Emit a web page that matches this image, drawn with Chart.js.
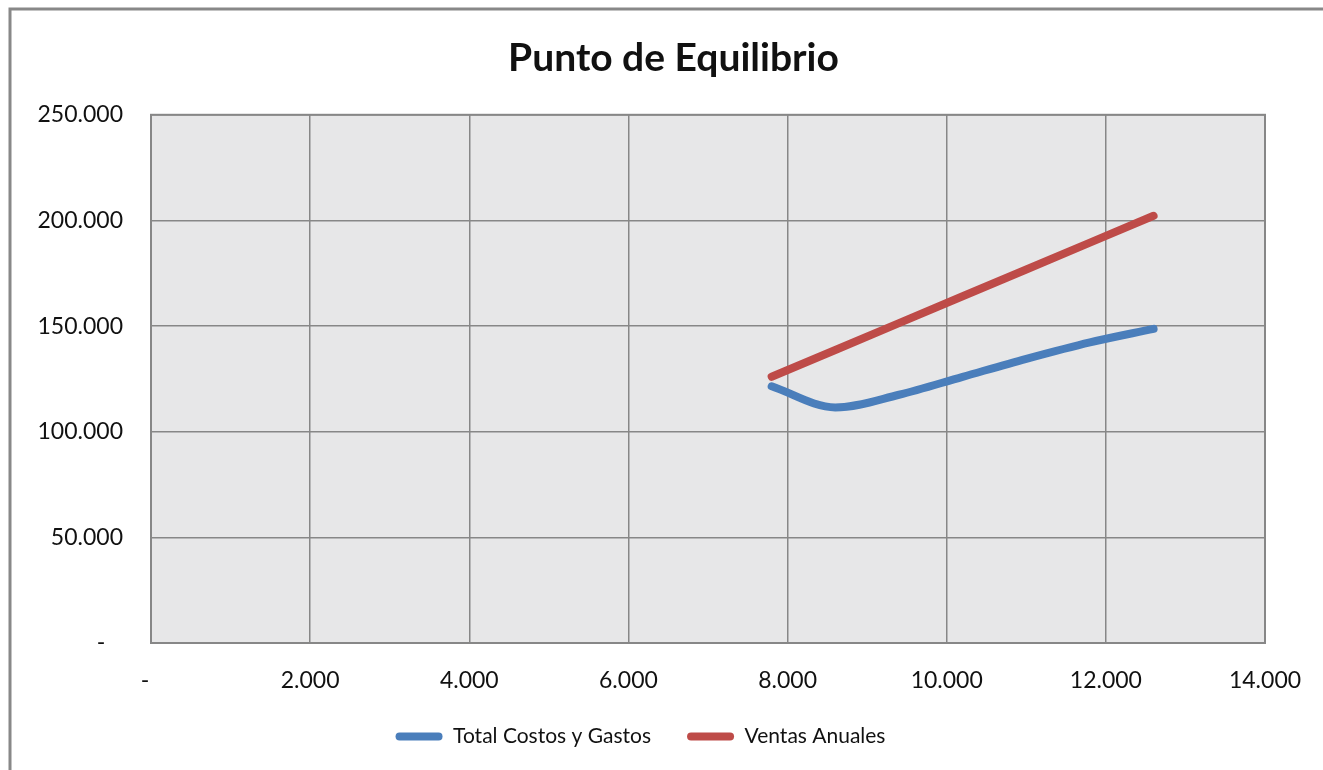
<!DOCTYPE html>
<html>
<head>
<meta charset="utf-8">
<script src="https://cdn.jsdelivr.net/npm/chart.js@4.4.0/dist/chart.umd.min.js"></script>
<style>
  html, body { margin: 0; padding: 0; background: #fff; }
  #wrap { width: 1323px; height: 770px; }
</style>
</head>
<body>
<div id="wrap"><canvas id="myLineChart" width="1323" height="770"></canvas></div>
<script>
// DATOS - unidades vendidas y montos
var unidades = [7800, 8600, 9400, 10200, 11000, 11800, 12600];
var costosTotales = [121500, 111500, 117500, 126000, 134500, 142300, 148700];
var ventasAnuales = [126000, 138700, 151400, 164100, 176800, 189500, 202200];
var xTicks = [0, 2000, 4000, 6000, 8000, 10000, 12000, 14000];
var yTicks = [0, 50000, 100000, 150000, 200000, 250000];

function puntos(ys) {
  return unidades.map(function (x, i) { return { x: x, y: ys[i] }; });
}
function formato(v) {
  return v.toString().replace(/\B(?=(\d{3})+(?!\d))/g, '.');
}

// fondo, marco exterior y area de trazado
var fondo = {
  id: 'fondo',
  afterLayout: function (chart) {
    // la leyenda va un poco a la izquierda y debajo de los ejes
    var L = chart.legend;
    L.left -= 33; L.right -= 33;
    var h = L.bottom - L.top;
    L.top = 690; L.bottom = 690 + h;
  },
  beforeDraw: function (chart) {
    var c = chart.ctx, a = chart.chartArea;
    c.save();
    c.fillStyle = '#ffffff';
    c.fillRect(0, 0, chart.width, chart.height);
    c.strokeStyle = '#888888';
    c.lineWidth = 3;
    c.beginPath();
    c.moveTo(10, chart.height + 5);
    c.lineTo(10, 9);
    c.lineTo(chart.width + 5, 9);
    c.stroke();
    c.fillStyle = '#e7e7e8';
    c.fillRect(a.left, a.top, a.right - a.left, a.bottom - a.top);
    c.restore();
  },
  beforeDatasetsDraw: function (chart) {
    var c = chart.ctx, a = chart.chartArea;
    c.save();
    c.strokeStyle = '#878787';
    c.lineWidth = 2;
    c.strokeRect(a.left, a.top, a.right - a.left, a.bottom - a.top);
    c.restore();
  }
};

var ctx = document.getElementById('myLineChart').getContext('2d');
var chart = new Chart(ctx, {
  type: 'scatter',
  data: {
    datasets: [{
      label: 'Total Costos y Gastos',
      data: puntos(costosTotales),
      showLine: true,
      borderColor: '#4a7ebb',
      backgroundColor: '#4a7ebb',
      borderWidth: 8,
      borderCapStyle: 'round',
      pointRadius: 0,
      cubicInterpolationMode: 'monotone'
    }, {
      label: 'Ventas Anuales',
      data: puntos(ventasAnuales),
      showLine: true,
      borderColor: '#be4b48',
      backgroundColor: '#be4b48',
      borderWidth: 8,
      borderCapStyle: 'round',
      pointRadius: 0
    }]
  },
  options: {
    responsive: false,
    animation: false,
    layout: { padding: { left: 24, right: 0, top: 0, bottom: 0 } },
    plugins: {
      title: {
        display: true,
        text: 'Punto de Equilibrio',
        color: '#111',
        font: { family: 'Lato', size: 39, weight: 'bold' },
        padding: { top: 35, bottom: 33 }
      },
      legend: {
        position: 'bottom',
        labels: {
          color: '#111',
          font: { family: 'Lato', size: 21 },
          boxWidth: 47,
          boxHeight: 8,
          useBorderRadius: true,
          borderRadius: 4,
          padding: 36,
          generateLabels: function (chart) {
            var items = Chart.defaults.plugins.legend.labels.generateLabels(chart);
            items.forEach(function (it) { it.lineWidth = 0; });
            return items;
          }
        }
      },
      tooltip: { enabled: false }
    },
    scales: {
      x: {
        type: 'linear',
        min: 0,
        max: 14000,
        afterBuildTicks: function (s) { s.ticks = xTicks.map(function (v) { return { value: v }; }); },
        afterFit: function (s) { s.height = 770 - 643 - chartLegendHeight(s.chart); s.paddingRight = 58; },
        grid: { color: '#878787', lineWidth: 1.5, drawTicks: false },
        border: { display: false },
        ticks: {
          color: '#111',
          font: { family: 'Lato', size: 23 },
          padding: 24,
          maxRotation: 0,
          callback: function (v) { return v === 0 ? '-  ' : formato(v); }
        }
      },
      y: {
        min: 0,
        max: 250000,
        afterBuildTicks: function (s) { s.ticks = yTicks.map(function (v) { return { value: v }; }); },
        afterFit: function (s) { s.width = 127; },
        grid: { color: '#878787', lineWidth: 1.5, drawTicks: false },
        border: { display: false },
        ticks: {
          color: '#111',
          font: { family: 'Lato', size: 23 },
          padding: 28,
          callback: function (v) { return v === 0 ? '-   ' : formato(v); }
        }
      }
    }
  },
  plugins: [fondo]
});

function chartLegendHeight(ch) {
  return ch.legend ? ch.legend.height : 0;
}
</script>
</body>
</html>
